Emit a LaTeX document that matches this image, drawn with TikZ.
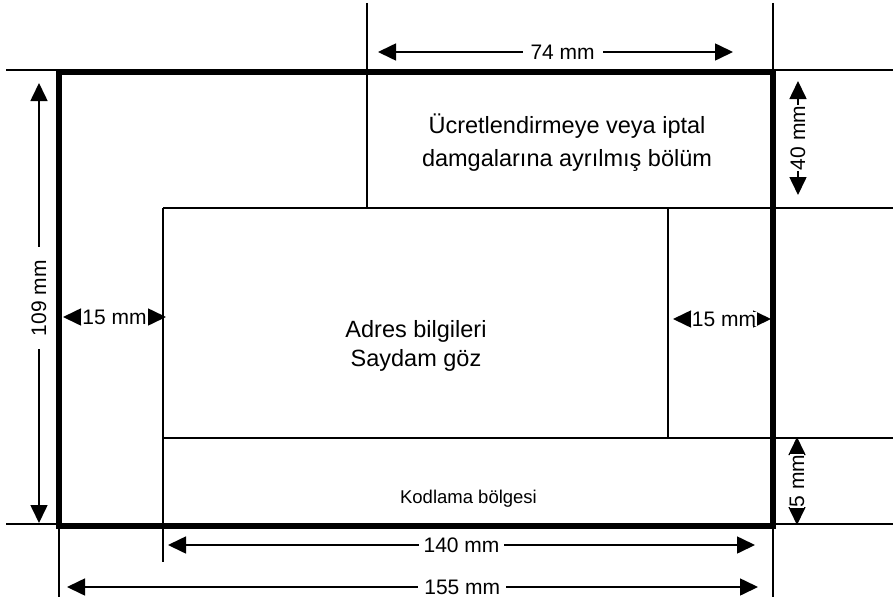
\documentclass[tikz,border=0pt]{standalone}
\usepackage{fontspec}
\setmainfont{Liberation Sans}
\usetikzlibrary{arrows.meta}
\begin{document}
\begin{tikzpicture}[x=1pt,y=-1pt,
  thinl/.style={line width=1.6pt},
  frame/.style={line width=6pt},
  dimline/.style={line width=1.6pt,{Triangle[length=18pt,width=17pt]}-{Triangle[length=18pt,width=17pt]}},
  dimlabel/.style={fill=white,inner xsep=1pt,inner ysep=0pt,font=\fontsize{21}{25}\selectfont},
  bigtext/.style={anchor=base,inner sep=0pt,font=\fontsize{23.5}{30}\selectfont},
  smalltext/.style={anchor=base,inner sep=0pt,font=\fontsize{18.5}{22}\selectfont}]
\useasboundingbox (0,0) rectangle (893,602);
% extension and division lines
\draw[thinl] (6,70) -- (893,70);
\draw[thinl] (6,524) -- (893,524);
\draw[thinl] (163,208) -- (893,208);
\draw[thinl] (163,438) -- (893,438);
\draw[thinl] (367,3) -- (367,208);
\draw[thinl] (773,3) -- (773,597);
\draw[thinl] (59,524) -- (59,597);
\draw[thinl] (163,208) -- (163,562);
\draw[thinl] (668,208) -- (668,438);
% outer frame
\draw[frame] (59,72) rectangle (773,526);
% texts
\node[bigtext] (stamp1) at (567,133) {Ücretlendirmeye veya iptal};
\node[bigtext] (stamp2) at (567,166) {damgalarına ayrılmış bölüm};
\node[bigtext] (addr1) at (416,337) {Adres bilgileri};
\node[bigtext] (addr2) at (416,366) {Saydam göz};
\node[smalltext] (code) at (468.5,503) {Kodlama bölgesi};
% dimension end points
\coordinate (a74l) at (378,52);  \coordinate (a74r) at (733,52);
\coordinate (a109t) at (39,83);  \coordinate (a109b) at (39,523);
\coordinate (a40t) at (798,81);  \coordinate (a40b) at (798,195);
\coordinate (a5t) at (797,437);  \coordinate (a5b) at (797,525);
\coordinate (a15l1) at (63,317); \coordinate (a15r1) at (166,317);
\coordinate (a15l2) at (673,319); \coordinate (a15r2) at (771,319);
\coordinate (a140l) at (168,545); \coordinate (a140r) at (755,545);
\coordinate (a155l) at (67,587); \coordinate (a155r) at (758,587);
% dimensions
\draw[dimline] (a74l) -- node[dimlabel,pos=0.52,inner xsep=8pt] (l74) {74 mm} (a74r);
\draw[dimline] (a109t) -- node[dimlabel,pos=0.489,rotate=90,inner xsep=13pt] (l109) {109 mm} (a109b);
\draw[dimline] (a40t) -- node[dimlabel,rotate=90] (l40) {40 mm} (a40b);
\draw[dimline] (a5t) -- node[dimlabel,rotate=90] (l5) {5 mm} (a5b);
\draw[dimline] (a15l1) -- node[dimlabel] (l15a) {15 mm} (a15r1);
\draw[dimline] (a15l2) -- node[dimlabel,pos=0.52] (l15b) {15 mm} (a15r2);
\draw[dimline] (a140l) -- node[dimlabel,inner xsep=5pt] (l140) {140 mm} (a140r);
\draw[dimline] (a155l) -- node[dimlabel,pos=0.572,inner xsep=6pt] (l155) {155 mm} (a155r);
\end{tikzpicture}
\end{document}
